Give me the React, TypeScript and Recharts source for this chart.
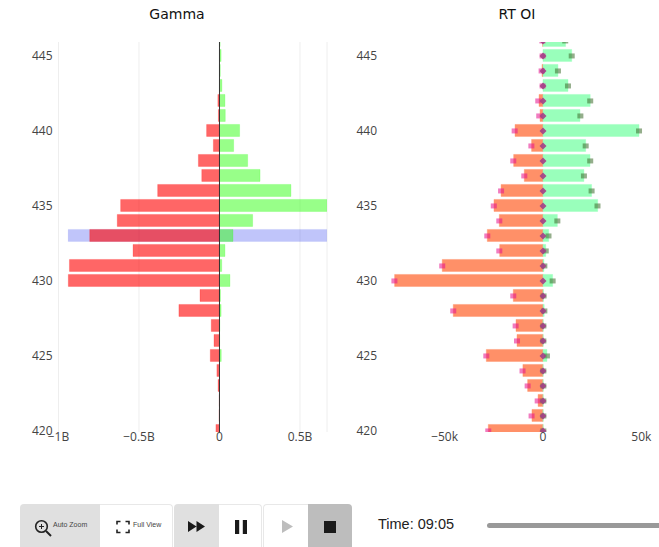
import { ComposedChart, Bar, Line, XAxis, YAxis, CartesianGrid, ReferenceLine } from "recharts";

const STRIKES = [446, 445, 444, 443, 442, 441, 440, 439, 438, 437, 436, 435, 434, 433, 432, 431, 430, 429, 428, 427, 426, 425, 424, 423, 422, 421, 420];
const Y_TICKS = [420, 425, 430, 435, 440, 445];

// Gamma, in billions
const GAMMA_POS = [0.004, 0.01, 0.005, 0.015, 0.034, 0.036, 0.125, 0.088, 0.175, 0.252, 0.444, 0.667, 0.206, 0.084, 0.034, 0.014, 0.065, 0.006, 0.01, 0.002, 0.001, 0.011, 0, 0, 0, 0, 0];
const GAMMA_NEG = [0, 0, 0, 0, -0.01, -0.007, -0.08, -0.038, -0.131, -0.11, -0.384, -0.614, -0.635, -0.806, -0.537, -0.932, -0.939, -0.121, -0.252, -0.051, -0.034, -0.057, -0.016, -0.009, -0.001, -0.002, -0.022];
const HIGHLIGHT_STRIKE = 433;
const HIGHLIGHT_RANGE = [-0.94, 0.667];
const GAMMA_TICKS = [-1, -0.5, 0, 0.5];

// RT OI, in thousands
const OI_POS = [11.5, 14.6, 7.6, 12.7, 24, 18.8, 48.8, 21.7, 23.9, 20.8, 24.7, 27.8, 7.3, 2.9, 1.4, 0.5, 4.9, 0.2, 0.6, 0.1, 0.1, 2, 0.1, 0.1, 0.1, 0.1, 0.1];
const OI_NEG = [-0.2, 0, -0.5, 0, -2, -1.5, -14.2, -5.8, -14.9, -9.5, -21.3, -24.9, -22.2, -28.3, -22, -51.2, -75.4, -15.1, -45.6, -13.7, -13.2, -28.8, -10.2, -7.8, -2.5, -5.6, -27.8];
const OI_POS_MARK = [11.3, 14.6, 7.6, 12.7, 24, 19, 48.8, 21.7, 24, 20.8, 24.7, 27.7, 7.3, 2.8, 1.4, 0.7, 4.9, 0.3, 0.7, 0.2, 0.2, 2, 0.2, 0.2, 0.2, 0.2, 0.2];
const OI_NEG_MARK = [-0.3, -0.2, -0.7, -0.2, -2.4, -1.9, -14.4, -5.9, -15.1, -9.5, -21.3, -25, -22.2, -28.3, -22.2, -51.2, -75.5, -15.1, -45.6, -13.9, -13.2, -28.8, -10.4, -7.8, -2.7, -5.8, -27.8];
const OI_TICKS = [-50, 0, 50];

const gammaRows = STRIKES.map((strike, i) => ({
  strike,
  pos: GAMMA_POS[i],
  neg: GAMMA_NEG[i],
  band: strike === HIGHLIGHT_STRIKE ? HIGHLIGHT_RANGE : null,
}));

const oiRows = STRIKES.map((strike, i) => ({
  strike,
  pos: OI_POS[i],
  neg: OI_NEG[i],
  posMark: OI_POS_MARK[i],
  negMark: OI_NEG_MARK[i],
  zero: 0,
}));

const TICK = { fontFamily: "'Open Sans'", fontSize: 12, fill: "#444" };
const TITLE: React.CSSProperties = {
  position: "absolute",
  top: 5,
  fontFamily: "'DejaVu Sans'",
  fontSize: 14,
  lineHeight: "18px",
  color: "#111",
  textAlign: "center",
};

const fmtGamma = (v: number) => (v === 0 ? "0" : `${v < 0 ? "\u2212" : ""}${Math.abs(v)}B`);
const fmtOi = (v: number) => (v === 0 ? "0" : `${v < 0 ? "\u2212" : ""}${Math.abs(v)}k`);

const squareDot = (color: string) => (p: any) => {
  if (p.cx == null || p.cy == null || p.value == null) return <g key={p.index} />;
  return <rect key={p.index} x={p.cx - 3} y={p.cy - 2.5} width={6} height={5} fill={color} fillOpacity={0.55} />;
};

const diamondDot = (p: any) => {
  if (p.cx == null || p.cy == null) return <g key={p.index} />;
  const { cx, cy } = p;
  return <path key={p.index} d={`M${cx - 3.5} ${cy}L${cx} ${cy - 3.5}L${cx + 3.5} ${cy}L${cx} ${cy + 3.5}Z`} fill="#a23f86" fillOpacity={0.9} />;
};

function GammaChart() {
  return (
    <ComposedChart
      layout="vertical"
      width={340}
      height={460}
      data={gammaRows}
      barSize={12}
      barGap={-12}
      margin={{ top: 42, right: 13, bottom: 0, left: 0 }}
    >
      <CartesianGrid horizontal={false} stroke="#eeeeee" />
      <XAxis
        type="number"
        domain={[-1, 0.668]}
        ticks={GAMMA_TICKS}
        tickFormatter={fmtGamma}
        allowDataOverflow
        axisLine={false}
        tickLine={false}
        tickSize={0}
        tickMargin={0}
        height={28}
        tick={TICK}
        interval={0}
      />
      <YAxis
        type="number"
        dataKey="strike"
        reversed
        domain={[419.93, 445.93]}
        ticks={Y_TICKS}
        allowDataOverflow
        axisLine={false}
        tickLine={false}
        tickSize={0}
        tickMargin={6}
        width={58.5}
        tick={TICK}
        interval={0}
      />
      <Bar dataKey="band" fill="#3c4bf0" fillOpacity={0.32} stroke="#3c4bf0" strokeOpacity={0.08} isAnimationActive={false} />
      <Bar dataKey="neg" fill="#ff0000" fillOpacity={0.6} stroke="#ff0000" strokeOpacity={0.2} isAnimationActive={false} />
      <Bar dataKey="pos" fill="#32ff14" fillOpacity={0.5} stroke="#32ff14" strokeOpacity={0.2} isAnimationActive={false} />
      <ReferenceLine x={0} stroke="#333" strokeWidth={1} />
    </ComposedChart>
  );
}

function OiChart() {
  return (
    <ComposedChart
      layout="vertical"
      width={319}
      height={460}
      data={oiRows}
      barSize={12}
      barGap={-12}
      margin={{ top: 42, right: 7, bottom: 0, left: 0 }}
    >
      <XAxis
        type="number"
        domain={[-81.3, 55.4]}
        ticks={OI_TICKS}
        tickFormatter={fmtOi}
        allowDataOverflow
        axisLine={false}
        tickLine={false}
        tickSize={0}
        tickMargin={0}
        height={28}
        tick={TICK}
        interval={0}
      />
      <YAxis
        type="number"
        dataKey="strike"
        reversed
        domain={[419.93, 445.93]}
        ticks={Y_TICKS}
        allowDataOverflow
        axisLine={false}
        tickLine={false}
        tickSize={0}
        tickMargin={6}
        width={43}
        tick={TICK}
        interval={0}
      />
      <Bar dataKey="neg" fill="#ff9068" stroke="#ff9068" strokeOpacity={0.4} isAnimationActive={false} />
      <Bar dataKey="pos" fill="#99ffbb" stroke="#99ffbb" strokeOpacity={0.4} isAnimationActive={false} />
      <Line dataKey="negMark" stroke="none" dot={squareDot("#e6108c")} isAnimationActive={false} />
      <Line dataKey="posMark" stroke="none" dot={squareDot("#3d6b2c")} isAnimationActive={false} />
      <Line dataKey="zero" stroke="none" dot={diamondDot} isAnimationActive={false} />
    </ComposedChart>
  );
}

const cell = (left: number, width: number, background: string): React.CSSProperties => ({
  position: "absolute",
  left,
  top: 504,
  width,
  height: 43,
  background,
});

const smallLabel: React.CSSProperties = {
  position: "absolute",
  top: 520,
  fontFamily: "'Liberation Sans'",
  fontSize: 7,
  lineHeight: "9px",
  color: "#444",
  whiteSpace: "nowrap",
};

const icon = (left: number, top: number, w: number, h: number, body: React.ReactNode) => (
  <svg style={{ position: "absolute", left, top }} width={w} height={h} viewBox={`0 0 ${w} ${h}`}>
    {body}
  </svg>
);

function Controls() {
  return (
    <>
      <div style={{ ...cell(20, 80, "#e0e0e0"), borderTopLeftRadius: 4 }} />
      <div style={{ ...cell(100, 73, "#fff"), boxSizing: "border-box", borderTop: "1px solid #e8e8e8", borderRight: "1px solid #e8e8e8", borderTopRightRadius: 4 }} />
      <div style={{ ...cell(174, 45, "#e0e0e0"), borderTopLeftRadius: 4 }} />
      <div style={{ ...cell(219, 43, "#fff"), boxSizing: "border-box", borderTop: "1px solid #e8e8e8", borderRight: "1px solid #e8e8e8", borderTopRightRadius: 4 }} />
      <div style={{ ...cell(263, 45, "#fff"), boxSizing: "border-box", borderTop: "1px solid #e8e8e8", borderLeft: "1px solid #e8e8e8", borderTopLeftRadius: 4 }} />
      <div style={{ ...cell(308, 44, "#bdbdbd"), borderTopRightRadius: 4 }} />

      {icon(34, 519, 18, 18, (
        <g fill="none" stroke="#222" strokeWidth={1.6}>
          <circle cx={7.5} cy={7.5} r={5.8} />
          <path d="M12 12L17 17" strokeWidth={2} />
          <path d="M7.5 5V10M5 7.5H10" strokeWidth={1} />
        </g>
      ))}
      <div style={{ ...smallLabel, left: 53 }}>Auto Zoom</div>
      {icon(116, 520, 14, 14, (
        <path d="M1 4.5V1.5H4.5M9.5 1.5H13V4.5M13 9.5V12.5H9.5M4.5 12.5H1V9.5" fill="none" stroke="#222" strokeWidth={1.6} />
      ))}
      <div style={{ ...smallLabel, left: 133 }}>Full View</div>
      {icon(188, 521, 17, 11, <path d="M0 0L8.5 5.5L0 11ZM8.5 0L17 5.5L8.5 11Z" fill="#1a1a1a" />)}
      {icon(235, 520, 12, 14, <path d="M0 0H4.2V14H0ZM7.8 0H12V14H7.8Z" fill="#1a1a1a" />)}
      {icon(282, 520, 11, 13, <path d="M0 0L11 6.5L0 13Z" fill="#bdbdbd" />)}
      {icon(324, 521, 12, 12, <path d="M0 0H12V12H0Z" fill="#1a1a1a" />)}

      <div style={{ position: "absolute", left: 378, top: 515, fontFamily: "'Liberation Sans'", fontSize: 14.5, lineHeight: "18px", color: "#222", whiteSpace: "nowrap" }}>
        Time: 09:05
      </div>
      <div style={{ position: "absolute", left: 487, top: 523, width: 172, height: 5, background: "#999", borderTopLeftRadius: 3, borderBottomLeftRadius: 3 }} />
    </>
  );
}

export default function App() {
  return (
    <div style={{ position: "absolute", left: 0, top: 0, width: 659, height: 547, overflow: "hidden", background: "#fff" }}>
      <div style={{ ...TITLE, left: 77, width: 200 }}>Gamma</div>
      <div style={{ ...TITLE, left: 417, width: 200 }}>RT OI</div>
      <div style={{ position: "absolute", left: 0, top: 0 }}>
        <GammaChart />
      </div>
      <div style={{ position: "absolute", left: 340, top: 0 }}>
        <OiChart />
      </div>
      <Controls />
    </div>
  );
}
